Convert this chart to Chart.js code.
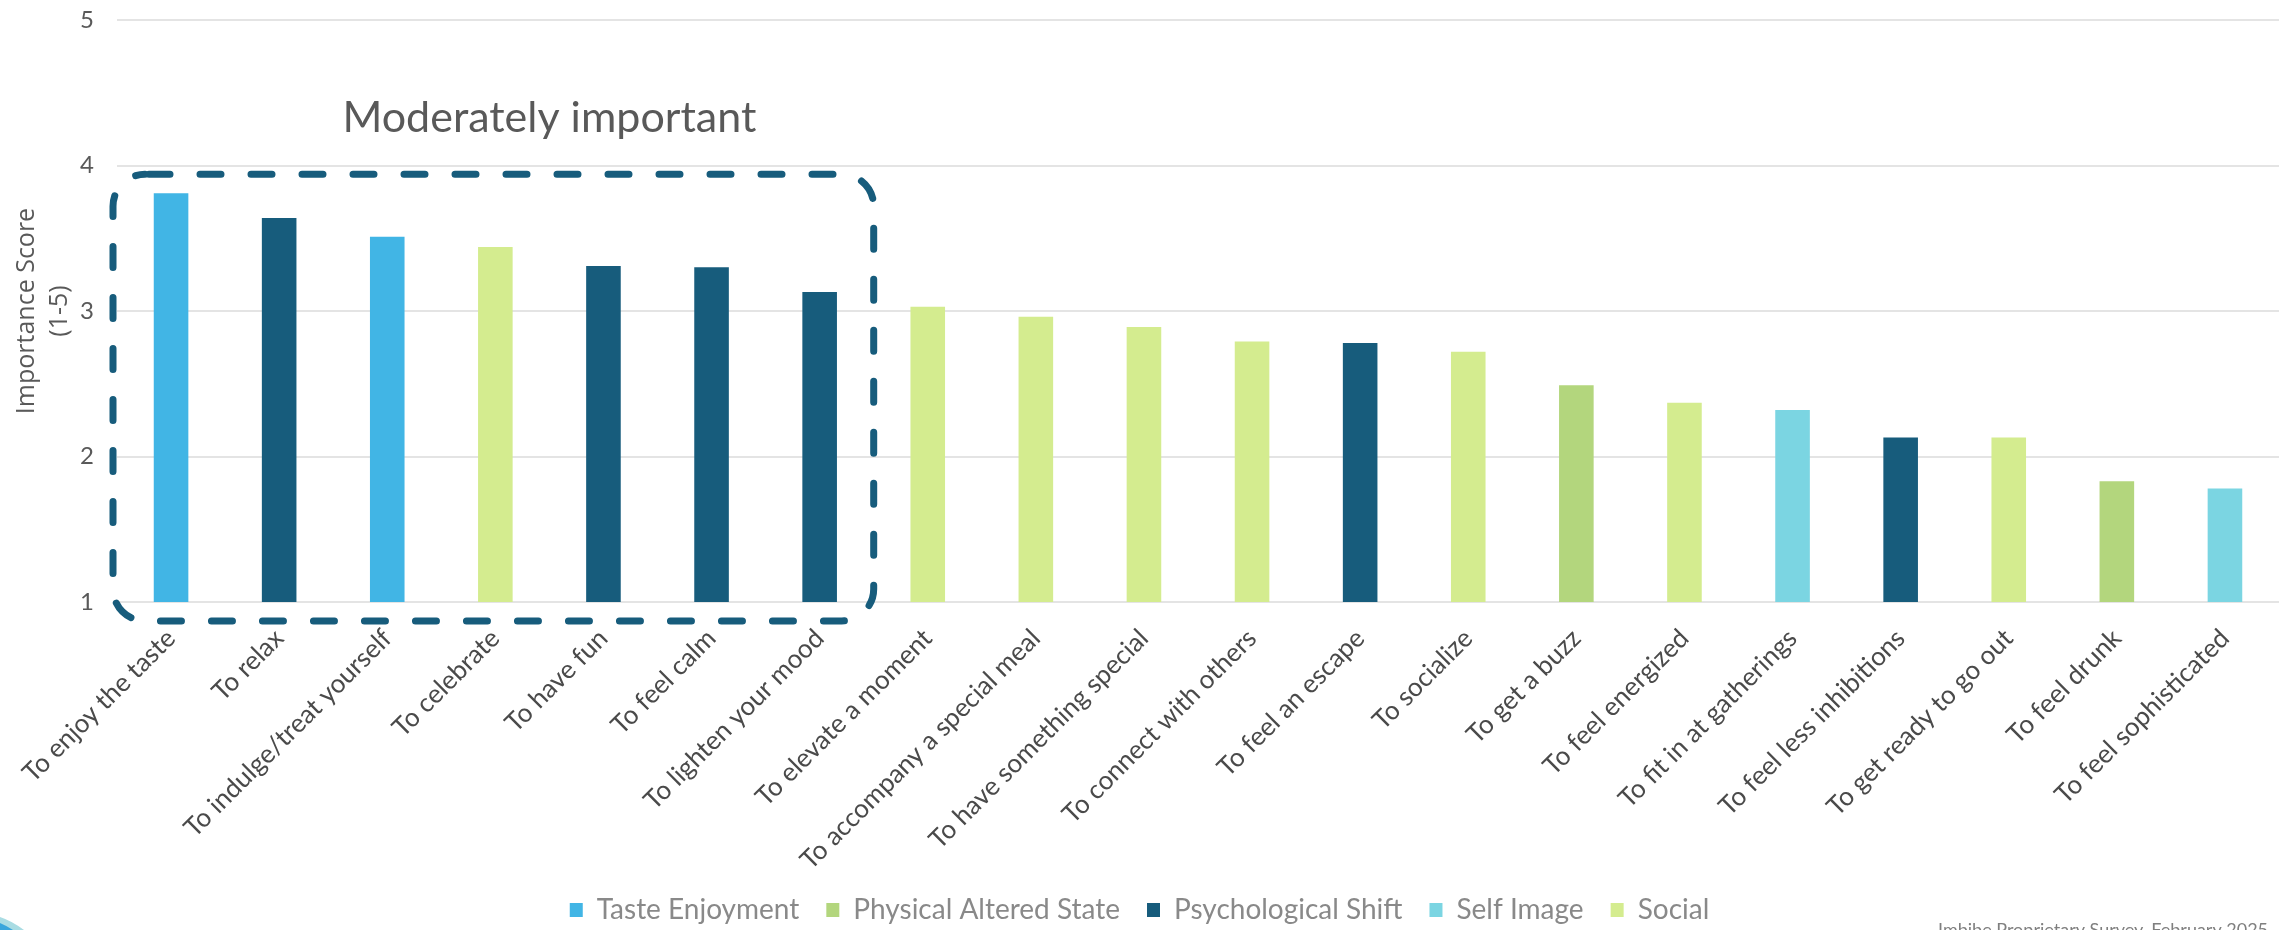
<!DOCTYPE html>
<html>
<head>
<meta charset="utf-8">
<title>Importance Score</title>
<script src="https://cdn.jsdelivr.net/npm/chart.js@4.4.1/dist/chart.umd.min.js"></script>
<style>
  html, body { margin: 0; padding: 0; background: #fff; }
  #wrap { position: relative; width: 2279px; height: 930px; }
</style>
</head>
<body>
<div id="wrap"><canvas id="chart"></canvas></div>
<script>
const categories = [
  'To enjoy the taste', 'To relax', 'To indulge/treat yourself', 'To celebrate',
  'To have fun', 'To feel calm', 'To lighten your mood', 'To elevate a moment',
  'To accompany a special meal', 'To have something special', 'To connect with others',
  'To feel an escape', 'To socialize', 'To get a buzz', 'To feel energized',
  'To fit in at gatherings', 'To feel less inhibitions', 'To get ready to go out',
  'To feel drunk', 'To feel sophisticated'
];
const scores = [3.81, 3.64, 3.51, 3.44, 3.31, 3.30, 3.13, 3.03, 2.96, 2.89,
                2.79, 2.78, 2.72, 2.49, 2.37, 2.32, 2.13, 2.13, 1.83, 1.78];
const groups = [
  'Taste Enjoyment', 'Psychological Shift', 'Taste Enjoyment', 'Social',
  'Psychological Shift', 'Psychological Shift', 'Psychological Shift', 'Social',
  'Social', 'Social', 'Social', 'Psychological Shift', 'Social',
  'Physical Altered State', 'Social', 'Self Image', 'Psychological Shift', 'Social',
  'Physical Altered State', 'Self Image'
];
const groupNames = ['Taste Enjoyment', 'Physical Altered State', 'Psychological Shift', 'Self Image', 'Social'];
const groupColors = ['#41b5e5', '#b3d67d', '#175c7c', '#7bd5e2', '#d4ec8f'];
const yTicks = [1, 2, 3, 4, 5];

// the boxed "moderately important" block ends at this category
const highlightLast = 6;
const highlightLabel = 'Moderately important';
const sourceNote = 'Imbibe Proprietary Survey, February 2025';

const datasets = groupNames.map((g, gi) => ({
  label: g,
  data: scores.map((v, i) => groups[i] === g ? v : null),
  backgroundColor: groupColors[gi],
  borderWidth: 0,
  grouped: false,
  barPercentage: 0.32,
  categoryPercentage: 1
}));

const extras = {
  id: 'extras',
  afterDraw(chart) {
    const { ctx, chartArea, scales: { x, y } } = chart;

    // dashed rounded box around the top group
    const left = chartArea.left - 4;
    const right = (x.getPixelForValue(highlightLast) + x.getPixelForValue(highlightLast + 1)) / 2;
    const top = y.getPixelForValue(3.94);
    const bottom = y.getPixelForValue(0.87);
    ctx.save();
    ctx.strokeStyle = '#175c7c';
    ctx.lineWidth = 7;
    ctx.lineCap = 'round';
    ctx.setLineDash([21, 30]);
    ctx.lineDashOffset = -4;
    ctx.beginPath();
    ctx.roundRect(left, top, right - left, bottom - top, 32);
    ctx.stroke();
    ctx.restore();

    // label above the box
    ctx.save();
    ctx.font = '43px Lato';
    ctx.fillStyle = '#595959';
    ctx.textAlign = 'center';
    ctx.textBaseline = 'alphabetic';
    ctx.fillText(highlightLabel, (x.getPixelForValue(3) + x.getPixelForValue(4)) / 2, y.getPixelForValue(4.23));
    ctx.restore();

    // source line, cut at the bottom edge
    ctx.save();
    ctx.font = '18px Lato';
    ctx.fillStyle = '#7f7f7f';
    ctx.textAlign = 'left';
    ctx.textBaseline = 'top';
    ctx.fillText(sourceNote, 1938, 921);
    ctx.restore();

    // corner swoosh from the slide template
    ctx.save();
    ctx.fillStyle = '#a9dce3';
    ctx.beginPath();
    ctx.moveTo(0, 917);
    ctx.quadraticCurveTo(12, 921, 24, 930);
    ctx.lineTo(0, 930);
    ctx.fill();
    ctx.fillStyle = '#3aa6dc';
    ctx.beginPath();
    ctx.moveTo(0, 923);
    ctx.quadraticCurveTo(7, 926, 13, 930);
    ctx.lineTo(0, 930);
    ctx.fill();
    ctx.restore();
  }
};

function draw() {
  new Chart(document.getElementById('chart'), {
    type: 'bar',
    data: { labels: categories, datasets: datasets },
    options: {
      responsive: true,
      maintainAspectRatio: false,
      devicePixelRatio: 1,
      animation: false,
      layout: { padding: { top: 20, right: 0, bottom: -4, left: 0 } },
      scales: {
        x: {
          grid: { display: false },
          border: { display: false },
          ticks: {
            autoSkip: false,
            maxRotation: 45,
            minRotation: 45,
            padding: 13,
            color: '#4a4a4a',
            font: { family: 'Lato', size: 26 }
          },
          afterFit: (scale) => { scale.height = 267; }
        },
        y: {
          min: yTicks[0],
          max: yTicks[yTicks.length - 1],
          afterBuildTicks: (scale) => { scale.ticks = yTicks.map(v => ({ value: v })); },
          // invisible tick marks keep the labels off the plot edge
          grid: { color: '#e4e4e4', lineWidth: 2, drawTicks: true, tickLength: 23, tickColor: 'rgba(0,0,0,0)' },
          border: { display: false },
          ticks: {
            padding: 0,
            color: '#595959',
            font: { family: 'Lato', size: 24 }
          },
          title: {
            display: true,
            text: ['Importance Score', '(1-5)'],
            color: '#595959',
            font: { family: 'Open Sans', size: 25, lineHeight: 1.3 },
            padding: { top: 11, bottom: 0 }
          },
          afterFit: (scale) => { scale.width = 117; }
        }
      },
      plugins: {
        legend: {
          position: 'bottom',
          labels: {
            color: '#898989',
            font: { family: 'Lato', size: 28 },
            boxWidth: 13,
            boxHeight: 14,
            padding: 27
          }
        },
        tooltip: { enabled: false }
      }
    },
    plugins: [extras]
  });
}

Promise.all([
  document.fonts.load('25px "Open Sans"'),
  document.fonts.load('25px Lato')
]).then(draw, draw);
</script>
</body>
</html>
